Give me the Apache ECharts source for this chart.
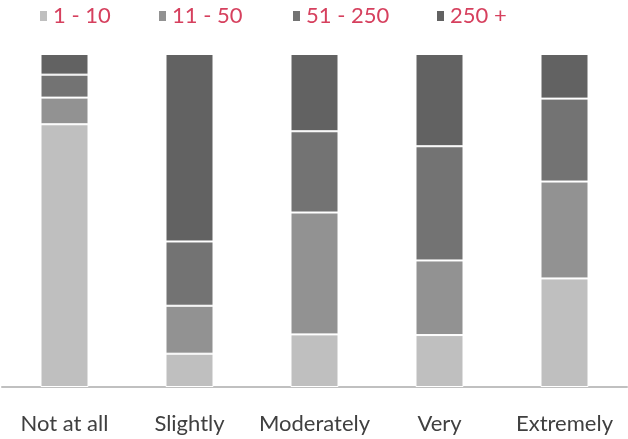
<!DOCTYPE html>
<html>
<head>
<meta charset="utf-8">
<script src="https://cdn.jsdelivr.net/npm/echarts@6/dist/echarts.min.js"></script>
<style>
html,body{margin:0;padding:0;background:#fff;}
#chart{width:628px;height:439px;}
</style>
</head>
<body>
<div id="chart"></div>
<script>
const categories = ['Not at all', 'Slightly', 'Moderately', 'Very', 'Extremely'];
const seriesNames = ['1 - 10', '11 - 50', '51 - 250', '250 +'];
const s1to10 = [78.9, 10.0, 15.8, 15.6, 32.6];
const s11to50 = [8.0, 14.4, 36.6, 22.4, 29.1];
const s51to250 = [6.9, 19.3, 24.4, 34.3, 24.9];
const s250plus = [6.2, 56.3, 23.2, 27.7, 13.4];

const colors = ['#bfbfbf', '#929292', '#737373', '#626262'];
const values = [s1to10, s11to50, s51to250, s250plus];
const legendLefts = [38, 157, 291, 435];
const FONT = 'Lato';

const chart = echarts.init(document.getElementById('chart'));
chart.setOption({
  animation: false,
  color: colors,
  legend: seriesNames.map((n, i) => ({
    data: [n],
    left: legendLefts[i],
    top: 5,
    padding: 0,
    itemWidth: 9,
    itemHeight: 12,
    itemGap: 0,
    icon: 'rect',
    textStyle: { color: '#d6405e', fontSize: 22, fontFamily: FONT }
  })),
  grid: { left: 2, right: 1, top: 54, bottom: 52, containLabel: false },
  xAxis: {
    type: 'category',
    data: categories,
    axisLine: { lineStyle: { color: '#c0c0c0', width: 2 } },
    axisTick: { show: false },
    axisLabel: { color: '#404040', fontSize: 22, fontFamily: FONT, margin: 26, interval: 0 }
  },
  yAxis: {
    type: 'value',
    min: 0,
    max: 100,
    show: false,
    splitLine: { show: false }
  },
  series: seriesNames.map((n, i) => ({
    name: n,
    type: 'bar',
    stack: 'total',
    barWidth: 48,
    data: values[i],
    itemStyle: { color: colors[i], borderColor: '#ffffff', borderWidth: 1 }
  }))
});
</script>
</body>
</html>
